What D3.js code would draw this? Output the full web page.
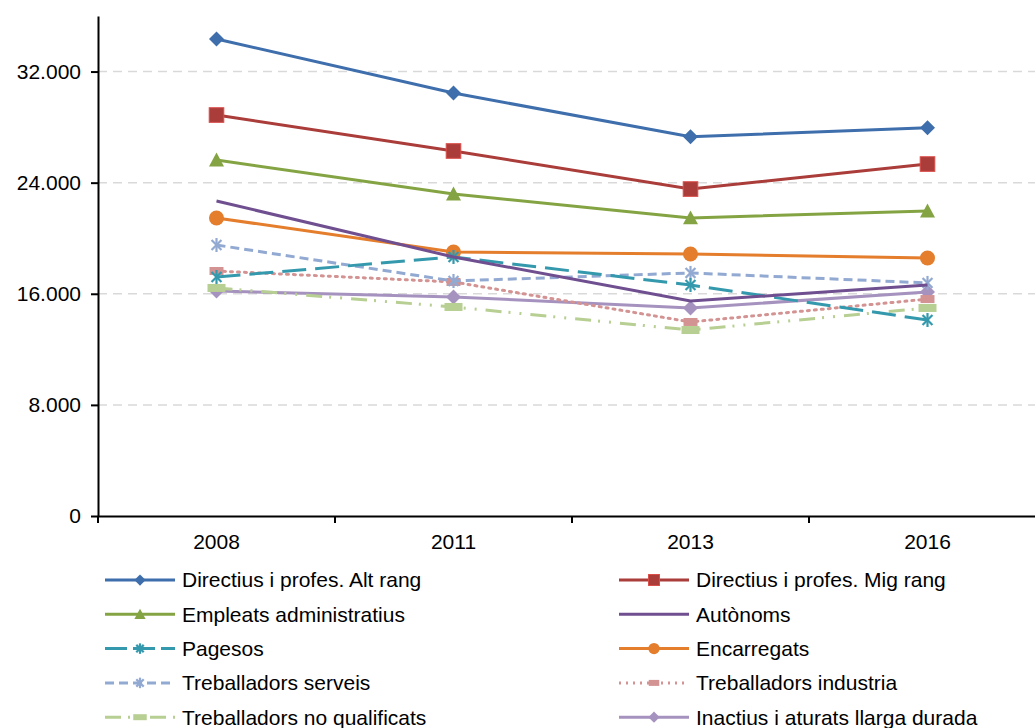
<!DOCTYPE html>
<html><head><meta charset="utf-8">
<script src="https://cdn.jsdelivr.net/npm/d3@7"></script>
<style>body{margin:0;background:#fff}svg{display:block;font-family:"Liberation Sans",Arial,sans-serif}</style>
</head><body><svg id="c" width="1035" height="728"></svg>
<script>
const years = ["2008","2011","2013","2016"];
const yTicks = [0, 8000, 16000, 24000, 32000];
const seriesNames = ["Directius i profes. Alt rang","Directius i profes. Mig rang","Empleats administratius","Autònoms","Pagesos","Encarregats","Treballadors serveis","Treballadors industria","Treballadors no qualificats","Inactius i aturats llarga durada"];
const altRang = [34350, 30450, 27300, 27950];
const migRang = [28870, 26280, 23540, 25340];
const empleats = [25630, 23180, 21460, 21960];
const autonoms = [22680, 18650, 15480, 16630];
const pagesos = [17210, 18650, 16630, 14110];
const encarregats = [21460, 19010, 18860, 18580];
const serveis = [19510, 16920, 17500, 16780];
const industria = [17640, 16850, 13970, 15620];
const noQualif = [16420, 15050, 13390, 14980];
const inactius = [16200, 15770, 14980, 16130];
const values = [altRang, migRang, empleats, autonoms, pagesos, encarregats, serveis, industria, noQualif, inactius];
const colors = ["#3e6eac","#aa3c39","#84a443","#6f4f8f","#3599ad","#e47d2c","#92a9d2","#d49393","#b7cf92","#a692bf"];
const dashes = [null,null,null,null,"24,9",null,"9,5","2,5","16,7,2,9,2,9",null];
const markers = ["diamond","square","triangle","none","asterisk","circle","star","rect","rectwide","diamond"];

const svg = d3.select("#c");
const x = d3.scaleBand().domain(years).range([98, 1046]);
const y = d3.scaleLinear().domain([0, 36000]).range([516, 16]);
const fmt = v => d3.format(",")(v).replace(/,/g, ".");
const FS = 21;

// gridlines
svg.append("g").selectAll("line").data(yTicks.filter(d => d > 0)).join("line")
  .attr("x1", 98).attr("x2", 1035).attr("y1", d => y(d)).attr("y2", d => y(d))
  .attr("stroke", "#d9d9d9").attr("stroke-width", 1.5).attr("stroke-dasharray", "9,6");

// y axis
const yAxis = svg.append("g").attr("transform", "translate(98,0)")
  .call(d3.axisLeft(y).tickValues(yTicks).tickFormat(fmt).tickSize(7).tickSizeOuter(0));
yAxis.attr("font-size", FS).attr("font-family", "Liberation Sans, Arial, sans-serif");
yAxis.select(".domain").attr("stroke", "#000").attr("stroke-width", 2);
yAxis.selectAll(".tick line").attr("stroke", "#000").attr("stroke-width", 2);
yAxis.selectAll(".tick text").attr("fill", "#000").attr("x", -17);

// x axis
const xAxis = svg.append("g").attr("transform", "translate(0,516)")
  .call(d3.axisBottom(x).tickSize(0).tickSizeOuter(0));
xAxis.attr("font-size", FS).attr("font-family", "Liberation Sans, Arial, sans-serif");
xAxis.select(".domain").attr("stroke", "#000").attr("stroke-width", 2);
xAxis.selectAll(".tick text").attr("fill", "#000").attr("dy", 0).attr("y", 33);
const bounds = years.map(d => x(d)).concat([x(years[years.length - 1]) + x.bandwidth()]);
svg.append("g").selectAll("line").data(bounds).join("line")
  .attr("x1", d => d).attr("x2", d => d).attr("y1", 516).attr("y2", 523)
  .attr("stroke", "#000").attr("stroke-width", 2);

function drawMarker(g, type, cx, cy, color, s) {
  if (type === "diamond") {
    const r = 7.5 * s;
    g.append("path").attr("d", `M${cx},${cy-r}L${cx+r},${cy}L${cx},${cy+r}L${cx-r},${cy}Z`).attr("fill", color);
  } else if (type === "square") {
    const r = 7.3 * s;
    g.append("rect").attr("x", cx - r).attr("y", cy - r).attr("width", 2*r).attr("height", 2*r).attr("fill", color).attr("stroke", d3.color(color).brighter(0.7)).attr("stroke-width", 1);
  } else if (type === "triangle") {
    const r = 7.5 * s;
    g.append("path").attr("d", `M${cx},${cy-r}L${cx+r},${cy+r*0.85}L${cx-r},${cy+r*0.85}Z`).attr("fill", color);
  } else if (type === "circle") {
    g.append("circle").attr("cx", cx).attr("cy", cy).attr("r", 7.5 * s).attr("fill", color);
  } else if (type === "asterisk" || type === "star") {
    const r = 7 * s;
    const gg = g.append("g").attr("stroke", color).attr("stroke-width", 2.2);
    gg.append("line").attr("x1", cx).attr("x2", cx).attr("y1", cy - r).attr("y2", cy + r);
    [45, 135].forEach(a => {
      const dx = r * Math.cos(a * Math.PI / 180), dy = r * Math.sin(a * Math.PI / 180);
      gg.append("line").attr("x1", cx - dx).attr("x2", cx + dx).attr("y1", cy - dy).attr("y2", cy + dy);
    });
  } else if (type === "rect") {
    g.append("rect").attr("x", cx - 7 * s).attr("y", cy - 4 * s).attr("width", 14 * s).attr("height", 8 * s).attr("fill", color);
  } else if (type === "rectwide") {
    g.append("rect").attr("x", cx - 9 * s).attr("y", cy - 4 * s).attr("width", 18 * s).attr("height", 8 * s).attr("fill", color);
  }
}

const line = d3.line().x((d, i) => x(years[i]) + x.bandwidth() / 2).y(d => y(d));
const plot = svg.append("g");
for (let k = values.length - 1; k >= 0; k--) {
  const g = plot.append("g");
  g.append("path").attr("d", line(values[k])).attr("fill", "none")
    .attr("stroke", colors[k]).attr("stroke-width", 3)
    .attr("stroke-dasharray", dashes[k]).attr("stroke-linecap", dashes[k] === "2,5" ? "round" : "butt");
  values[k].forEach((v, i) => drawMarker(g, markers[k], x(years[i]) + x.bandwidth() / 2, y(v), colors[k], 1));
}

// legend
const legX = [105, 619], legY0 = 580, legDy = 34.3;
seriesNames.forEach((name, k) => {
  const col = k % 2, row = Math.floor(k / 2);
  const lx = legX[col], ly = legY0 + row * legDy;
  const g = svg.append("g");
  g.append("line").attr("x1", lx).attr("x2", lx + 70).attr("y1", ly).attr("y2", ly)
    .attr("stroke", colors[k]).attr("stroke-width", 3).attr("stroke-dasharray", k === 4 ? "22,6" : dashes[k]);
  drawMarker(g, markers[k], lx + 35, ly, colors[k], 0.75);
  g.append("text").attr("x", lx + 77).attr("y", ly).attr("dy", "0.35em").attr("font-size", FS).attr("fill", "#000").text(name);
});
</script></body></html>
